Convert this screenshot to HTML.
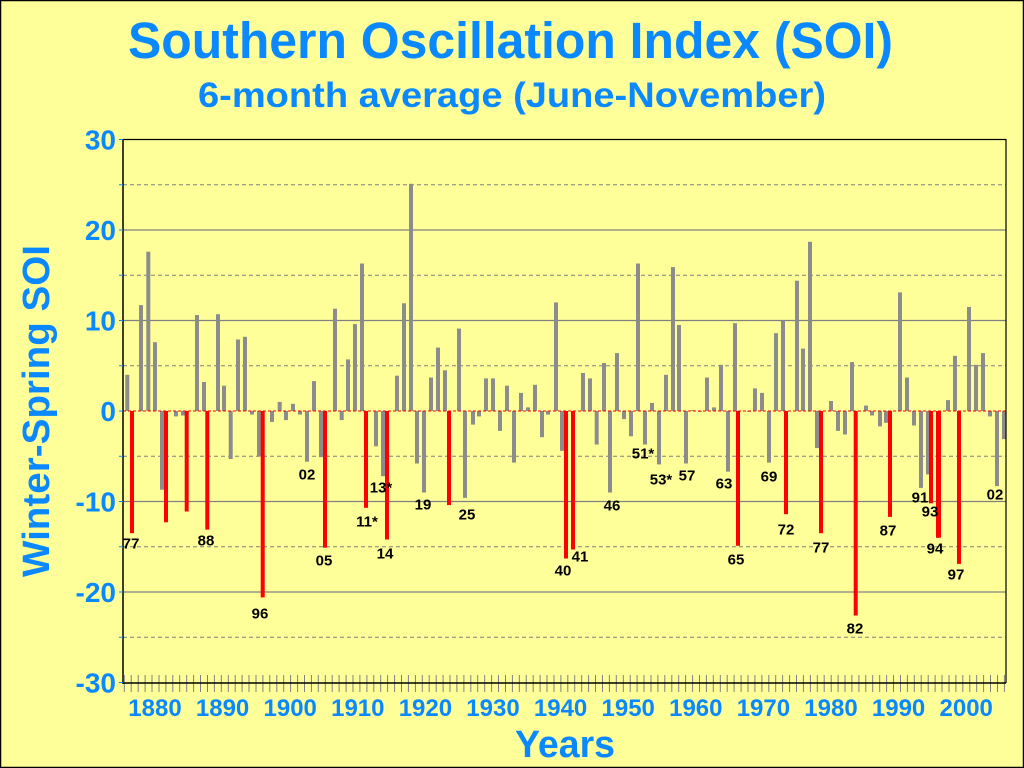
<!DOCTYPE html>
<html><head><meta charset="utf-8"><style>
html,body{margin:0;padding:0;background:#FFFF99;}
svg{display:block;font-family:"Liberation Sans",Arial,sans-serif;font-weight:bold;}
</style></head><body>
<svg id="s" width="1024" height="768" viewBox="0 0 1024 768" xmlns="http://www.w3.org/2000/svg">
<rect x="0" y="0" width="1024" height="768" fill="#FFFF99"/>
<rect x="0.5" y="0.5" width="1023" height="767" fill="none" stroke="#000" stroke-width="1.5"/>
<text x="128" y="58" font-size="51" fill="#0A88FF" textLength="765" lengthAdjust="spacingAndGlyphs">Southern Oscillation Index (SOI)</text>
<text x="198" y="107" font-size="35" fill="#0A88FF" textLength="628" lengthAdjust="spacingAndGlyphs">6-month average (June-November)</text>
<text x="515" y="757" font-size="38" fill="#0A88FF" textLength="100" lengthAdjust="spacingAndGlyphs">Years</text>
<text transform="translate(49,411) rotate(-90)" x="0" y="0" text-anchor="middle" font-size="38" fill="#0A88FF" textLength="332" lengthAdjust="spacingAndGlyphs">Winter-Spring SOI</text>
<g id="g"></g>
</svg>
<script>
var g=document.getElementById('g'),h='';
function Y(v){return 411-v*9.05;}
for(var v=-25;v<=25;v+=5){if(v==0)continue;var y=Y(v).toFixed(1);
 if(v%10==0)h+='<line x1="123" x2="1006" y1="'+y+'" y2="'+y+'" stroke="#808080" stroke-width="1.2"/>';
 else h+='<line x1="123" x2="1006" y1="'+y+'" y2="'+y+'" stroke="#808080" stroke-width="1" stroke-dasharray="4,3"/>';}
for(var v=-30;v<=30;v+=10){h+='<text x="116" y="'+(Y(v)+10)+'" text-anchor="end" font-size="28" fill="#0A88FF">'+v+'</text>';}
var yrs=[1880,1890,1900,1910,1920,1930,1940,1950,1960,1970,1980,1990,2000];
for(var i=0;i<yrs.length;i++){h+='<text x="'+(155+i*67.6)+'" y="716" text-anchor="middle" font-size="24" fill="#0A88FF">'+yrs[i]+'</text>';}
var gray=[[127.3,4.0],[141,11.7],[148.3,17.6],[155,7.6],[162,-8.7],[176,-0.6],[183,-0.5],[197,10.6],[204,3.2],[218,10.7],[224,2.8],[230.7,-5.3],[238,7.9],[245,8.2],[252,-0.4],[259,-5.0],[272,-1.2],[279.7,1.0],[286,-1.0],[293,0.8],[300,-0.4],[307,-5.6],[314,3.3],[321,-5.1],[335,11.3],[341.7,-1.0],[348,5.7],[355,9.6],[362,16.3],[376,-3.9],[383,-7.2],[397,3.9],[404,11.9],[411,25.1],
[417,-5.8],[424,-9.0],[431,3.7],[438,7.0],[445,4.5],[459,9.1],[465,-9.6],[473,-1.5],[479,-0.6],[486,3.6],[493,3.6],[500,-2.2],[507,2.8],[514,-5.7],[521,2.0],[528,0.4],[535,2.9],[542,-2.9],[548,-0.4],[556,12.0],[562,-4.4],[583,4.2],[590,3.6],[596.7,-3.7],[604,5.3],[610,-9.0],[617,6.4],[624,-0.9],[631,-2.8],[638,16.3],[645,-3.7],[652,0.9],[659,-5.9],[666,4.0],[673,15.9],[679,9.5],[686,-5.8],[693,0.1],[700,-0.1],[707,3.7],[714,0.4],
[721,5.1],[728,-6.7],[735,9.7],[749,-0.1],[755,2.5],[762,2.0],[769,-5.7],[776,8.6],[783,10.0],[797,14.4],[803,6.9],[810,18.7],[817,-4.1],[831,1.1],[838,-2.2],[845,-2.6],[852,5.4],[866,0.6],[872,-0.5],[880,-1.7],[886,-1.3],[900,13.1],[907,3.7],[914,-1.6],[921,-8.5],[928,-7.0],[948,1.2],[955,6.1],[969,11.5],[976,5.1],[983,6.4],[990,-0.6],[997,-8.3],[1004,-3.1]];
var red=[[132,-13.5],[166,-12.3],[186.7,-11.1],[207.3,-13.1],[262.7,-20.6],[325,-15.1],[366,-10.7],[387,-14.2],[449,-10.4],[566,-16.3],[573,-15.3],[738,-14.9],[786,-11.4],[821,-13.5],[855.7,-22.6],[890,-11.7],[931,-10.2],[938,-14.0],[959,-16.9]];
function bar(x,v,c,w){var y0=Y(Math.max(v,0)),hh=Math.abs(v)*9.05;h+='<rect x="'+(x-w/2).toFixed(1)+'" y="'+y0.toFixed(1)+'" width="'+w+'" height="'+hh.toFixed(1)+'" fill="'+c+'"/>';}
gray.forEach(function(b){bar(b[0],b[1],'#8C8C8C',4);});
h+='<line x1="123" x2="1006" y1="411" y2="411" stroke="#FF0000" stroke-width="1" stroke-dasharray="3,2"/>';
red.forEach(function(b){bar(b[0],b[1],'#FF0000',4);});
h+='<rect x="936" y="411" width="5" height="'+(14*9.05)+'" fill="#FF0000"/>';
var labs=[[131,543,'77'],[206,540,'88'],[260,613,'96'],[307,474,'02'],[324,560,'05'],[367,521,'11*'],[381,487,'13*'],[385,553,'14'],[423,504,'19'],[467,514,'25'],[563,570,'40'],[580,556,'41'],[612,505,'46'],[643,453,'51*'],[661,479,'53*'],[687,475,'57'],[724,483,'63'],[736,559,'65'],[769,476,'69'],[786,529,'72'],[821,547,'77'],[855,628,'82'],[888,530,'87'],[920,497,'91'],[930,511,'93'],[935,548,'94'],[956,574,'97'],[995,494,'02']];
labs.forEach(function(l){h+='<text x="'+l[0]+'" y="'+(l[1]+5.5)+'" text-anchor="middle" font-size="15" fill="#000">'+l[2]+'</text>';});
h+='<line x1="123" x2="1006" y1="139.5" y2="139.5" stroke="#000" stroke-width="1.2"/>';
h+='<line x1="1006" x2="1006" y1="139" y2="683" stroke="#000" stroke-width="1.2"/>';
h+='<line x1="123" x2="123" y1="139" y2="684" stroke="#000" stroke-width="1.5"/>';
for(var x=124.3;x<=1006;x+=6.93){h+='<line x1="'+x.toFixed(1)+'" x2="'+x.toFixed(1)+'" y1="675" y2="692" stroke="#808080" stroke-width="1"/>';}
h+='<line x1="123" x2="1006" y1="683" y2="683" stroke="#000" stroke-width="1.5"/>';
for(var v=-30;v<=30;v+=5){h+='<line x1="119" x2="123" y1="'+Y(v)+'" y2="'+Y(v)+'" stroke="#0A88FF" stroke-width="1"/>';}
g.innerHTML=h;
</script>
</body></html>
